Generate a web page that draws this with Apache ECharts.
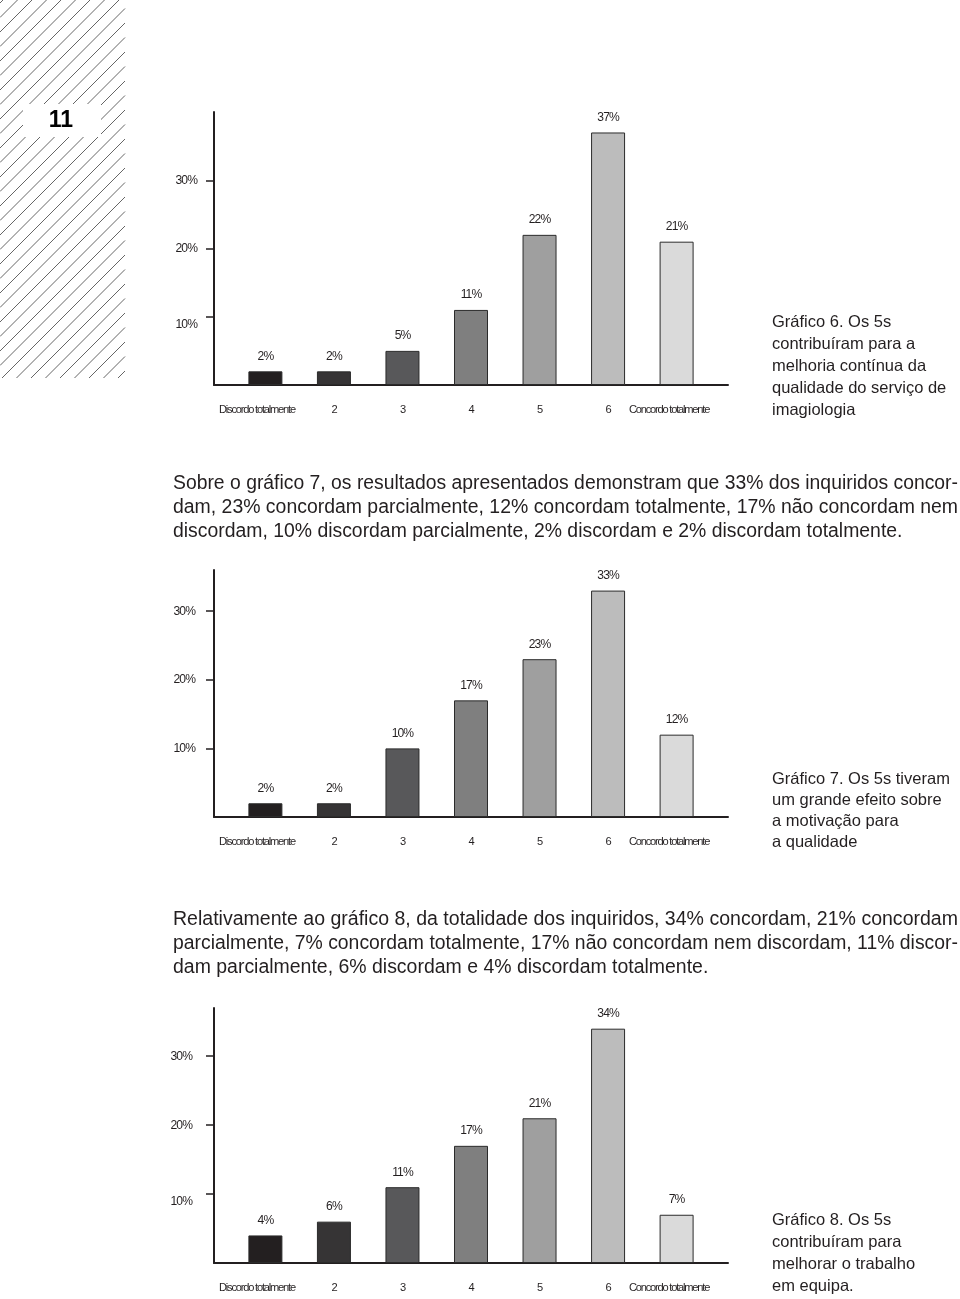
<!DOCTYPE html>
<html><head><meta charset="utf-8">
<script src="https://cdn.jsdelivr.net/npm/echarts@6/dist/echarts.min.js"></script>
<style>html,body{margin:0;padding:0;background:#fff}#c{width:960px;height:1299px}</style>
</head><body><div id="c"></div>
<script>
// ---------- data ----------
const categories = ['Discordo totalmente', '2', '3', '4', '5', '6', 'Concordo totalmente'];
const grafico6Values = [2, 2, 5, 11, 22, 37, 21];
const grafico7Values = [2, 2, 10, 17, 23, 33, 12];
const grafico8Values = [4, 6, 11, 17, 21, 34, 7];
const yTickValues = [10, 20, 30];
const pageNumber = '11';
const caption6Lines = ['Gráfico 6. Os 5s', 'contribuíram para a', 'melhoria contínua da', 'qualidade do serviço de', 'imagiologia'];
const caption7Lines = ['Gráfico 7. Os 5s tiveram', 'um grande efeito sobre', 'a motivação para', 'a qualidade'];
const caption8Lines = ['Gráfico 8. Os 5s', 'contribuíram para', 'melhorar o trabalho', 'em equipa.'];
const paragraph7Lines = [
  'Sobre o gráfico 7, os resultados apresentados demonstram que 33% dos inquiridos concor-',
  'dam, 23% concordam parcialmente, 12% concordam totalmente, 17% não concordam nem',
  'discordam, 10% discordam parcialmente, 2% discordam e 2% discordam totalmente.'
];
const paragraph8Lines = [
  'Relativamente ao gráfico 8, da totalidade dos inquiridos, 34% concordam, 21% concordam',
  'parcialmente, 7% concordam totalmente, 17% não concordam nem discordam, 11% discor-',
  'dam parcialmente, 6% discordam e 4% discordam totalmente.'
];

// ---------- tight tracking for the small chart labels (mimics the condensed print face) ----------
const origFillText = CanvasRenderingContext2D.prototype.fillText;
CanvasRenderingContext2D.prototype.fillText = function (t, x, y, mw) {
  const prev = this.letterSpacing;
  const f = this.font || '';
  if (f.indexOf('12.1px') >= 0) this.letterSpacing = '-0.9px';
  else if (f.indexOf('11.1px') >= 0) this.letterSpacing = '-1.2px';
  const r = (mw === undefined) ? origFillText.call(this, t, x, y) : origFillText.call(this, t, x, y, mw);
  this.letterSpacing = prev;
  return r;
};

// ---------- styles ----------
const INK = '#231f20';
const barColors = ['#231f20', '#363435', '#58585a', '#7f7f7f', '#9f9f9f', '#bcbcbc', '#dadada'];
const SANS = "'Liberation Sans', Arial, sans-serif";

// lowTick: the printed "10%" label sits a little below its tick in charts 6 and 8
const charts = [
  { values: grafico6Values, top: 112, bottom: 385, yMargin: 17, lowTick: true },
  { values: grafico7Values, top: 570, bottom: 817, yMargin: 19, lowTick: false },
  { values: grafico8Values, top: 1008, bottom: 1263, yMargin: 22, lowTick: true }
];

// end labels sit a little left of their bar in the print; trailing spaces shift the centred text
const firstPad = '         ', lastPad = '        ';
const grid = [], xAxis = [], yAxis = [], series = [];
charts.forEach((c, k) => {
  grid.push({ left: 214, width: 514, top: c.top, height: c.bottom - c.top, containLabel: false });
  xAxis.push({
    type: 'value', gridIndex: k, min: -0.75, max: 6.75,
    axisLine: { show: true, onZero: false, lineStyle: { color: INK, width: 2 } },
    axisTick: { show: false }, splitLine: { show: false },
    axisLabel: {
      customValues: categories.map((_, i) => i),
      showMinLabel: true, showMaxLabel: true, hideOverlap: false,
      margin: 19, color: INK, fontFamily: SANS, fontSize: 11.1,
      formatter: v => v === 0 ? categories[v] + firstPad
        : (v === categories.length - 1 ? categories[v] + lastPad : categories[v])
    }
  });
  yAxis.push({
    type: 'value', gridIndex: k, min: 0, max: Math.max(...c.values) + 3,
    axisLine: { show: true, onZero: false, lineStyle: { color: INK, width: 2 } },
    axisTick: { show: true, customValues: yTickValues, length: 8, lineStyle: { color: INK, width: 1.5 } },
    splitLine: { show: false },
    axisLabel: {
      customValues: yTickValues, margin: c.yMargin, color: INK, fontFamily: SANS, fontSize: 12.1,
      formatter: v => (c.lowTick && v === yTickValues[0]) ? '{low|' + v + '%}' : v + '%',
      rich: { low: { fontFamily: SANS, fontSize: 12.1, color: INK, padding: [15, 0, 0, 0] } }
    }
  });
  series.push({
    type: 'bar', xAxisIndex: k, yAxisIndex: k, barWidth: 34,
    data: c.values.map((v, i) => ({ value: [i, v], itemStyle: { color: barColors[i] } })),
    itemStyle: { borderColor: '#2b2b2b', borderWidth: 1 },
    label: { show: true, position: 'top', distance: 9, color: INK, fontFamily: SANS, fontSize: 12.1,
      formatter: p => p.value[1] + '%' },
    silent: true, animation: false
  });
});

// ---------- decorative page elements ----------
const graphic = [];
const HW = 125, HH = 378, step = 14.5;
for (let cc = 3; cc < HW + HH; cc += step) {
  const xa = Math.max(0, cc - HH), xb = Math.min(HW, cc);
  if (xb <= xa) continue;
  graphic.push({ type: 'line', shape: { x1: xa, y1: cc - xa, x2: xb, y2: cc - xb },
    style: { stroke: '#666', lineWidth: 1 }, silent: true });
}
graphic.push({ type: 'rect', shape: { x: 23, y: 104, width: 78, height: 33 }, style: { fill: '#fff' }, silent: true });
graphic.push({ type: 'text', x: 61, y: 121, style: { text: pageNumber, font: "bold 23px " + SANS, fill: '#000',
  align: 'center', verticalAlign: 'middle', textAlign: 'center', textVerticalAlign: 'middle' }, silent: true });

function caption(lines, x, y0, lh) {
  lines.forEach((t, i) => graphic.push({ type: 'text', x: x, y: y0 + i * lh,
    style: { text: t, font: '16.5px ' + SANS, fill: INK, align: 'left', verticalAlign: 'middle',
      textAlign: 'left', textVerticalAlign: 'middle' }, silent: true }));
}
caption(caption6Lines, 772, 322, 22);
caption(caption7Lines, 772, 779, 21.3);
caption(caption8Lines, 772, 1220, 22);

// justified paragraphs (condensed by horizontal scaling)
const mctx = document.createElement('canvas').getContext('2d');
const PFONT = '20px ' + SANS;
mctx.font = PFONT;
function paragraph(lines, x, right, y0, lh) {
  const scales = lines.map(t => (right - x) / mctx.measureText(t).width);
  const full = scales.slice(0, lines.length - 1);
  const avg = full.reduce((a, b) => a + b, 0) / full.length;
  lines.forEach((t, i) => graphic.push({ type: 'text', x: x, y: y0 + i * lh,
    scaleX: i < lines.length - 1 ? scales[i] : avg,
    style: { text: t, font: PFONT, fill: INK, align: 'left', verticalAlign: 'middle',
      textAlign: 'left', textVerticalAlign: 'middle' }, silent: true }));
}
paragraph(paragraph7Lines, 173, 958, 483, 24);
paragraph(paragraph8Lines, 173, 958, 919, 24);

const chart = echarts.init(document.getElementById('c'), null, { renderer: 'canvas' });
chart.setOption({ backgroundColor: '#fff', animation: false, grid, xAxis, yAxis, series, graphic });
</script></body></html>
